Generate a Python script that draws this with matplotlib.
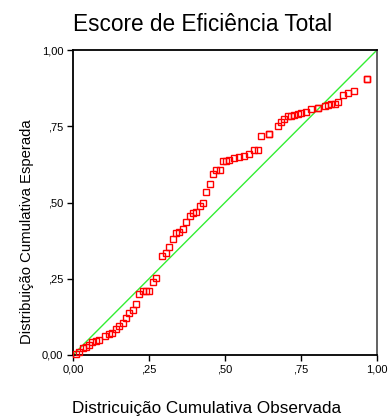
import matplotlib
matplotlib.use("Agg")
import matplotlib.pyplot as plt
from matplotlib.ticker import FixedLocator, FixedFormatter

plt.rcParams['font.family'] = ['Liberation Sans', 'DejaVu Sans']

# Observed vs expected cumulative probabilities (P-P plot)
observed = [0.009, 0.020, 0.032, 0.043, 0.053, 0.064, 0.075, 0.086, 0.104, 0.120,
            0.129, 0.141, 0.152, 0.163, 0.174, 0.185, 0.196, 0.207, 0.218, 0.229,
            0.240, 0.251, 0.262, 0.273, 0.293, 0.306, 0.317, 0.328, 0.339, 0.350,
            0.362, 0.373, 0.384, 0.394, 0.406, 0.417, 0.428, 0.438, 0.450, 0.461,
            0.471, 0.482, 0.493, 0.504, 0.513, 0.531, 0.546, 0.563, 0.579, 0.596,
            0.607, 0.618, 0.645, 0.645, 0.673, 0.684, 0.695, 0.706, 0.717, 0.728,
            0.740, 0.751, 0.766, 0.784, 0.805, 0.805, 0.828, 0.839, 0.850, 0.861,
            0.872, 0.887, 0.905, 0.923, 0.967, 0.967]
expected = [0.002, 0.011, 0.022, 0.025, 0.033, 0.043, 0.047, 0.050, 0.062, 0.069,
            0.073, 0.084, 0.094, 0.106, 0.120, 0.138, 0.146, 0.167, 0.201, 0.209,
            0.211, 0.211, 0.238, 0.252, 0.325, 0.333, 0.355, 0.381, 0.400, 0.404,
            0.414, 0.436, 0.455, 0.466, 0.469, 0.488, 0.499, 0.535, 0.561, 0.594,
            0.605, 0.608, 0.635, 0.636, 0.639, 0.645, 0.648, 0.653, 0.660, 0.671,
            0.671, 0.718, 0.726, 0.726, 0.750, 0.764, 0.775, 0.783, 0.785, 0.787,
            0.790, 0.795, 0.797, 0.807, 0.810, 0.810, 0.816, 0.819, 0.822, 0.822,
            0.829, 0.852, 0.859, 0.866, 0.906, 0.906]

tick_values = [0.0, 0.25, 0.5, 0.75, 1.0]
tick_labels = ["0,00", ",25", ",50", ",75", "1,00"]

title = "Escore de Eficiência Total"
xlabel = "Districuição Cumulativa Observada"
ylabel = "Distribuição Cumulativa Esperada"

fig = plt.figure(figsize=(3.91, 4.17), dpi=100)
ax = fig.add_axes([73 / 391, 62 / 417, 304 / 391, 305 / 417])

# reference diagonal
ax.plot([0, 1], [0, 1], color="#33ee33", linewidth=1.0, zorder=2)

ax.plot(observed, expected, linestyle="none", marker="s", markersize=4.2,
        markerfacecolor="none", markeredgecolor="#ff0000", markeredgewidth=1.0,
        zorder=3, clip_on=False)

ax.set_xlim(0, 1)
ax.set_ylim(0, 1)

ax.xaxis.set_major_locator(FixedLocator(tick_values))
ax.xaxis.set_major_formatter(FixedFormatter(tick_labels))
ax.yaxis.set_major_locator(FixedLocator(tick_values))
ax.yaxis.set_major_formatter(FixedFormatter(tick_labels))
ax.tick_params(axis="both", direction="out", length=4, width=1.0,
               labelsize=8, pad=3, colors="black")

for side in ["left", "bottom", "top"]:
    ax.spines[side].set_color("black")
    ax.spines[side].set_linewidth(1.3)
ax.spines["right"].set_color("#555555")
ax.spines["right"].set_linewidth(1.3)

fig.text(203 / 391, 1 - 31 / 417, title, ha="center", va="baseline", fontsize=16.3)
fig.text(207 / 391, 1 - 413 / 417, xlabel, ha="center", va="baseline", fontsize=12.3)
fig.text(27 / 391, 1 - 232 / 417, ylabel, ha="center", va="center", fontsize=10.7,
         rotation=90)

fig.savefig("out.png", dpi=100, facecolor="white")
